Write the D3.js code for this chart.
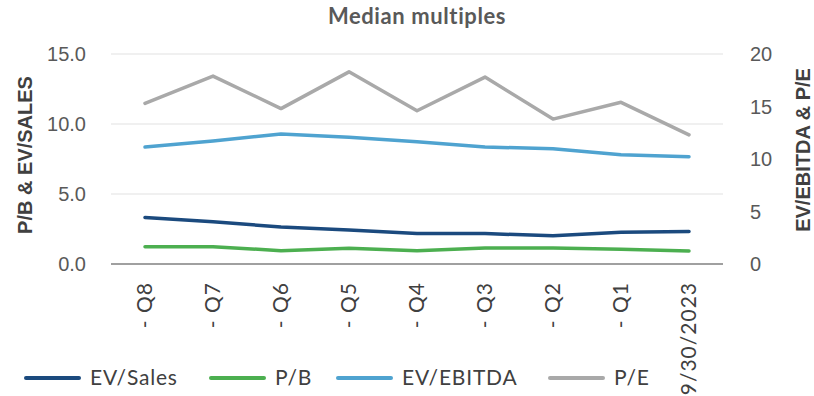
<!DOCTYPE html>
<html><head><meta charset="utf-8">
<script src="https://cdn.jsdelivr.net/npm/d3@7"></script>
<style>body{margin:0;background:#fff}svg{display:block}</style>
</head><body>
<svg id="c" width="814" height="396"></svg>
<script>
const categories = ["- Q8","- Q7","- Q6","- Q5","- Q4","- Q3","- Q2","- Q1","9/30/2023"];
const evSales  = [3.33,3.02,2.64,2.43,2.17,2.17,2.02,2.26,2.33];
const pb       = [1.24,1.24,0.95,1.12,0.95,1.14,1.14,1.05,0.93];
const evEbitda = [11.14,11.71,12.38,12.07,11.65,11.14,10.98,10.41,10.22];
const pe       = [15.3,17.9,14.8,18.3,14.6,17.8,13.8,15.4,12.3];
const leftTicks = [0,5,10,15];
const rightTicks = [0,5,10,15,20];

const svg = d3.select("#c");
const x = d3.scaleBand().domain(categories).range([111,723]);
const yL = d3.scaleLinear().domain([0,15]).range([264,54]);
const yR = d3.scaleLinear().domain([0,20]).range([264,54]);
const cx = d => x(d) + x.bandwidth()/2;

// gridlines
svg.append("g").selectAll("line").data(leftTicks.filter(t=>t>0)).join("line")
  .attr("x1",111).attr("x2",723).attr("y1",d=>yL(d)).attr("y2",d=>yL(d))
  .attr("stroke","#ebebeb").attr("stroke-width",1.5);
svg.append("line").attr("x1",111).attr("x2",723).attr("y1",yL(0)).attr("y2",yL(0))
  .attr("stroke","#a0a0a0").attr("stroke-width",2);

// left ticks
svg.append("g").selectAll("text").data(leftTicks).join("text")
  .attr("x",86).attr("y",d=>yL(d)).attr("dy","0.35em").attr("text-anchor","end")
  .attr("font-family","Liberation Sans, Arial, sans-serif").attr("font-size",20).attr("fill","#595959")
  .text(d=>d3.format(".1f")(d));
// right ticks
svg.append("g").selectAll("text").data(rightTicks).join("text")
  .attr("x",750).attr("y",d=>yR(d)).attr("dy","0.35em").attr("text-anchor","start")
  .attr("font-family","Liberation Sans, Arial, sans-serif").attr("font-size",20).attr("fill","#595959")
  .text(d=>d);

// axis titles
svg.append("text").attr("transform","translate(32,155) rotate(-90)").attr("text-anchor","middle")
  .attr("font-family","Liberation Sans, Arial, sans-serif").attr("font-weight","bold").attr("font-size",20).attr("fill","#404040")
  .text("P/B & EV/SALES");
svg.append("text").attr("transform","translate(810,150) rotate(-90)").attr("text-anchor","middle")
  .attr("font-family","Liberation Sans, Arial, sans-serif").attr("font-weight","bold").attr("font-size",20).attr("fill","#404040")
  .text("EV/EBITDA & P/E");

// title
svg.append("text").attr("x",417).attr("y",24).attr("text-anchor","middle")
  .attr("font-family","Lato, sans-serif").attr("font-weight","bold").attr("font-size",22)
  .attr("letter-spacing","0.6px").attr("fill","#595959")
  .text("Median multiples");

// x labels
svg.append("g").selectAll("text").data(categories).join("text")
  .attr("transform",d=>`translate(${cx(d)},282) rotate(-90)`).attr("dy","0.35em").attr("text-anchor","end")
  .attr("font-family","Lato, sans-serif").attr("font-size",21).attr("letter-spacing","1px").attr("fill","#404040")
  .text(d=>d);

// lines
const series = [
  {name:"EV/Sales", vals:evSales, y:yL, color:"#1b4a7e"},
  {name:"P/B", vals:pb, y:yL, color:"#4caf50"},
  {name:"EV/EBITDA", vals:evEbitda, y:yR, color:"#4fa3d0"},
  {name:"P/E", vals:pe, y:yR, color:"#a9a9a9"}
];
series.slice().reverse().forEach(s=>{
  const line = d3.line().x((v,i)=>cx(categories[i])).y(v=>s.y(v));
  svg.append("path").datum(s.vals).attr("d",line).attr("fill","none")
    .attr("stroke",s.color).attr("stroke-width",3.5).attr("stroke-linecap","round").attr("stroke-linejoin","round");
});

// legend
const legX = [26,211,338,550];
const lg = svg.append("g").selectAll("g").data(series).join("g")
  .attr("transform",(d,i)=>`translate(${legX[i]},378)`);
lg.append("line").attr("x1",0).attr("x2",53).attr("stroke",d=>d.color).attr("stroke-width",4).attr("stroke-linecap","round");
lg.append("text").attr("x",64).attr("dy","0.35em").attr("font-family","Lato, sans-serif").attr("font-size",21)
  .attr("letter-spacing","0.8px").attr("fill","#404040").text(d=>d.name);
</script>
</body></html>
